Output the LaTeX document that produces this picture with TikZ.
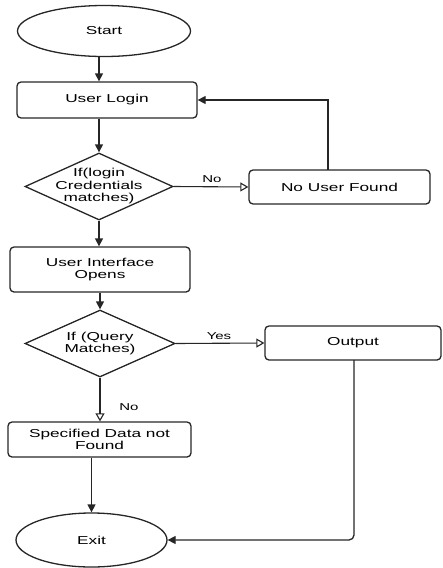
\documentclass[tikz,border=0pt]{standalone}
\usepackage{fontspec}
\setmainfont[FakeStretch=1.5]{Liberation Sans}
\usetikzlibrary{shapes.geometric,arrows.meta}
\begin{document}
\begin{tikzpicture}[x=1pt,y=-1pt,
  txt/.style={font=\fontsize{11.5}{12.5}\selectfont},
  box/.style={draw=black!85, rounded corners=4pt, line width=1.3pt, inner sep=0pt, align=center, txt},
  term/.style={draw=black!85, ellipse, line width=1.3pt, inner sep=0pt, txt},
  dec/.style={draw=black!85, diamond, line width=1.3pt, inner sep=0pt},
  arr/.style={draw=black!85, line width=1.3pt, -{Triangle[length=8pt,width=8pt]}},
  oarr/.style={draw=black!85, line width=1.1pt, -{Triangle[open,length=8pt,width=9pt]}},
  lab/.style={font=\fontsize{10}{11}\selectfont, inner sep=0pt}]
\useasboundingbox (0,0) rectangle (443,568);

\node[term, minimum width=173pt, minimum height=51pt] (start) at (104,31) {Start};
\node[box, minimum width=180pt, minimum height=36pt] (login) at (107,100) {User Login};
\node[dec, minimum width=148pt, minimum height=67pt,
  label={[align=center, txt]center:If(login\\Credentials\\matches)}] (d1) at (99,186.5) {};
\node[box, minimum width=181pt, minimum height=34pt] (nouser) at (339.5,187) {No User Found};
\node[box, minimum width=180pt, minimum height=45pt] (ui) at (100,269.5) {User Interface\\Opens};
\node[dec, minimum width=150pt, minimum height=67pt,
  label={[align=center, txt]center:If (Query\\Matches)}] (d2) at (100,343.5) {};
\node[box, minimum width=176pt, minimum height=34pt] (output) at (353,343) {Output};
\node[box, minimum width=183pt, minimum height=35pt] (spec) at (99.5,439.5) {Specified Data not\\Found};
\node[term, minimum width=151pt, minimum height=54pt] (exit) at (91.5,540) {Exit};

\node[lab] (lno1) at (212,179) {No};
\node[lab] (lyes) at (219,336) {Yes};
\node[lab] (lno2) at (129,407) {No};

\coordinate (rt) at (328,170);
\coordinate (ob) at (354,360);

\draw[arr] (start.south -| d1) -- (login.north -| d1);
\draw[arr] (login.south -| d1) -- (d1.north);
\draw[oarr] (d1.east) -- (nouser.west);
\draw[arr] (rt) |- (login.east);
\draw[arr] (d1.south) -- (ui.north -| d1);
\draw[arr] (ui.south -| d2) -- (d2.north);
\draw[oarr] (d2.east) -- (output.west);
\draw[arr, rounded corners=5pt] (ob) |- (exit.east);
\draw[oarr] (d2.south) -- (spec.north -| d2);
\draw[arr] (exit.north |- spec.south) -- (exit.north);
\end{tikzpicture}
\end{document}
